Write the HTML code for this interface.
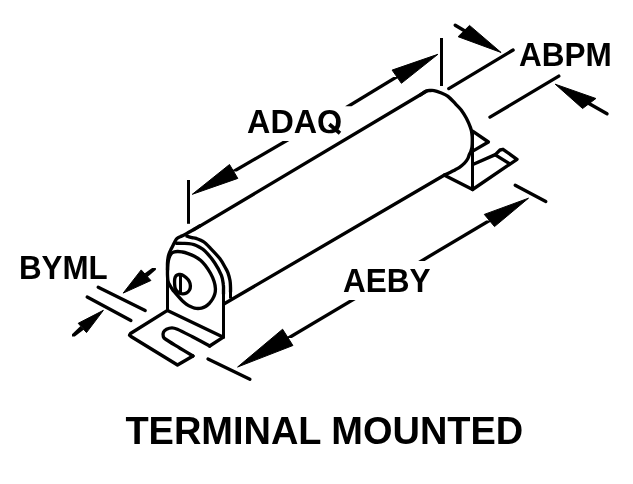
<!DOCTYPE html>
<html><head><meta charset="utf-8"><title>Terminal Mounted</title>
<style>
html,body{margin:0;padding:0;background:#fff;}
body{width:633px;height:484px;overflow:hidden;}
svg{display:block;}
.d line,.d polyline,.d path,.d ellipse{fill:none;stroke:#000;stroke-width:3.35;stroke-linecap:round;stroke-linejoin:round;}
.d line.b{stroke-linecap:butt;stroke-width:3;}
.d line.q{stroke-linecap:butt;stroke-width:3.8;}
.d polygon.h0{fill:#000;stroke:none;}
.d polygon.h{fill:#000;stroke:#000;stroke-width:1;stroke-linejoin:miter;}
.t text{font-family:"Liberation Sans",sans-serif;font-weight:bold;fill:#000;}
</style></head>
<body>
<svg width="633" height="484" viewBox="0 0 633 484">
<g class="d">
<line x1="448.8" y1="88.6" x2="513.1" y2="50"/>
<line x1="490" y1="117.1" x2="558.8" y2="76.1"/>
<line x1="455.2" y1="25.2" x2="464.5" y2="30.8"/>
<polygon class="h" points="469.5,25.4 501.1,52.5 458.1,36.7"/>
<line x1="588.5" y1="103.2" x2="607" y2="113.8"/>
<polygon class="h" points="555.2,84.2 595.9,98.5 582.6,108.5"/>
<line class="b" x1="441.5" y1="38" x2="441.5" y2="86"/>
<line class="b" x1="188.5" y1="180" x2="188.5" y2="223.8"/>
<polygon class="h" points="437.9,54.3 392.1,70.1 401.4,83.3"/>
<polygon class="h0" points="393.3,77 399.7,77 351.6,106.3 345.1,106.3"/>
<polygon class="h" points="192.3,194.3 229.5,164.5 237.8,178.4"/>
<polygon class="h0" points="230.2,171.5 236.8,171.5 289.3,140.9 282.7,140.9"/>
<line class="nc" x1="426.3" y1="91.3" x2="194" y2="229.6"/>
<path d="M200,225.7 C199,226.3 195.9,228.2 194,229.3 C192.1,230.4 190.4,231.4 188.8,232.3 C187.2,233.2 185.9,234.1 184.5,234.8 C183.1,235.5 181.3,236.1 180.1,236.7 C178.8,237.3 177.8,237.8 177,238.5 C176.2,239.2 175.8,240 175.2,241 C174.6,242 173.9,243.4 173.3,244.7 C172.7,245.9 172.1,247.2 171.4,248.5 C170.8,249.8 170,251.3 169.4,252.8 C168.8,254.3 168.4,255.8 168.1,257.5 C167.8,259.2 167.6,260.9 167.5,263 C167.4,265.1 167.5,268.8 167.5,270"/>
<line class="b" x1="167.5" y1="265" x2="167.5" y2="311.5"/>
<path d="M420,95.2 C421.1,94.5 424.6,91.9 426.3,91.1 C428.1,90.3 429.2,90.6 430.5,90.5 C431.8,90.4 432.4,90.3 434,90.6 C435.6,90.9 437.7,91.5 440,92.5 C442.3,93.5 445.4,94.3 448,96.3 C450.6,98.3 453.7,102 455.9,104.3 C458.1,106.6 459.4,107.7 461.2,110 C462.9,112.3 464.8,115.4 466.4,118.3 C467.9,121.2 469.6,125.1 470.5,127.6 C471.4,130 471.5,130.9 471.8,133 C472.1,135.1 472.3,137.7 472.3,140 C472.3,142.3 472.2,145.1 472,147 C471.8,148.9 471.3,150.2 470.8,151.5 C470.3,152.8 469.7,153.6 469.2,154.8 C468.7,156.1 468.4,157.6 467.6,159 C466.8,160.4 465.9,161.7 464.5,163.1 C463.1,164.5 461.1,166.2 459.5,167.3 C457.9,168.4 456.5,169.1 455,169.9 C453.5,170.7 452.1,171.4 450.4,172.3 C448.6,173.2 445.5,174.6 444.5,175.1"/>
<line x1="224.3" y1="303.8" x2="444.5" y2="175"/>
<path d="M187,236.2 C187.8,236.4 190.4,237.2 191.9,237.6 C193.4,238 194.3,237.7 196.2,238.4 C198.1,239.1 201,240 203.4,241.7 C205.8,243.3 207.8,245.5 210.5,248.3 C213.2,251.1 217.2,255.2 219.8,258.6 C222.4,262 224.6,266.4 226,268.9 C227.4,271.3 227.4,271.4 228.1,273.3 C228.8,275.2 229.6,278.2 230,280.5 C230.4,282.8 230.4,285.1 230.5,287 C230.6,288.9 230.5,291.2 230.5,292"/>
<line class="b" x1="230.5" y1="290" x2="230.5" y2="298.5"/>
<path d="M176.4,243.2 C177.4,243.2 180.5,243.2 182.6,243.3 C184.7,243.4 186.9,243.4 188.8,243.6 C190.7,243.8 192.3,244.1 194,244.6 C195.7,245.1 196.8,245.6 198.7,246.7 C200.6,247.8 202.7,248.7 205.3,251.4 C208,254.1 211.9,258.7 214.6,262.7 C217.3,266.7 219.9,271.7 221.4,275.3 C222.9,278.9 223,282.1 223.3,284.5 C223.7,286.9 223.5,288.4 223.5,290 C223.5,291.6 223.5,293.3 223.5,294"/>
<line class="b" x1="223.5" y1="292" x2="223.5" y2="338"/>
<path d="M177.4,251.5 C179.1,251.4 180.6,251.7 182.4,252 C184.2,252.3 186.1,252.9 188.1,253.6 C190.1,254.3 192.3,255.2 194.4,256.3 C196.5,257.4 199,259 200.8,260.5 C202.6,262 203.6,263.2 205.2,265.3 C206.8,267.4 209,270.6 210.5,273.3 C212,276 213.3,279 214.1,281.5 C214.9,284 215.3,286.4 215.4,288.5 C215.5,290.6 215.3,292.2 214.8,294 C214.3,295.8 213.5,297.5 212.6,299 C211.7,300.5 210.7,301.9 209.5,303.2 C208.3,304.4 206.8,305.7 205.5,306.5 C204.2,307.3 202.8,307.8 201.5,308.1 C200.2,308.4 199.2,308.5 198,308.5 C196.8,308.5 195.8,308.4 194.5,308.1 C193.2,307.8 191.8,307.2 190.5,306.6 C189.2,306 188,305.3 186.6,304.3 C185.2,303.3 183.6,301.9 182.3,300.7 C181,299.5 180.1,298.5 179,297.2 C177.9,295.9 176.6,294.4 175.5,293.1 C174.4,291.8 173.4,290.8 172.5,289.5 C171.6,288.2 170.8,286.9 170,285.5 C169.2,284.1 168.4,282.8 168,281 C167.6,279.2 167.6,277.2 167.5,275 C167.4,272.8 167.5,270.3 167.6,268 C167.7,265.7 167.9,263 168.3,261 C168.7,259 169.1,257.4 169.8,256 C170.5,254.6 171.2,253.3 172.5,252.6 C173.8,251.8 175.8,251.6 177.4,251.5Z"/>
<path d="M179,274.5 C180,274.3 180.8,274.2 182,274.7 C183.2,275.2 184.8,276.4 186,277.5 C187.2,278.6 188.6,280.1 189.3,281.5 C190,282.9 190.4,284.6 190.4,286 C190.4,287.4 190.2,288.8 189.5,290 C188.8,291.2 187.7,292.4 186.5,293 C185.3,293.6 183.8,293.9 182.5,293.8 C181.2,293.7 179.7,293.3 178.5,292.5 C177.3,291.7 176.2,290.4 175.5,289 C174.8,287.6 174.7,285.7 174.6,284 C174.5,282.3 174.5,280.4 174.7,279 C174.9,277.6 175.3,276.6 176,275.8 C176.7,275.1 178,274.7 179,274.5Z"/>
<line class="b" x1="180.5" y1="275" x2="180.5" y2="293"/>
<line x1="167.5" y1="310.4" x2="223.4" y2="337.2"/>
<polyline points="167.5,310.4 130.5,333.5 129.5,335.2 131,336.5 177.5,365 193,356"/>
<polyline points="223.4,337.2 209.7,346"/>
<path d="M193,356 C190.8,354.7 184.5,350.9 180,348.2 C175.5,345.4 168.8,341.4 166,339.5 C163.2,337.6 163.7,337.7 163.3,336.5 C162.9,335.3 163,333.4 163.5,332.2 C164,331 165.1,329.9 166.5,329.2 C167.9,328.5 170.2,327.8 172,327.8 C173.8,327.8 174.1,327.8 177.4,329.2 C180.7,330.6 186.6,333.7 192,336.5 C197.4,339.3 206.8,344.4 209.7,346"/>
<line class="b" x1="472.5" y1="130.5" x2="472.5" y2="190"/>
<polyline points="472.6,131.2 488.4,142 473.6,150.6"/>
<polyline points="473.4,164.2 495.3,154.6 500,150 503,149.3 517,159.3 472.6,189.5"/>
<line x1="495.3" y1="154.8" x2="509" y2="163.3"/>
<line x1="444.5" y1="175.3" x2="472.6" y2="189.5"/>
<line x1="208" y1="359.1" x2="249.9" y2="379.3"/>
<line x1="515.2" y1="185.3" x2="545.8" y2="201.4"/>
<polygon class="h" points="237.6,367 282.6,329.2 292.9,345.5"/>
<polygon class="h0" points="285.2,338.1 291.8,338.1 355.7,299.9 349.2,299.9"/>
<polygon class="h" points="528.5,198.2 484.3,214.4 494.5,226.6"/>
<polygon class="h0" points="486.2,220.5 492.8,220.5 424.7,260.9 418.2,260.9"/>
<line x1="98.2" y1="287.2" x2="145.2" y2="310.4"/>
<line x1="87.2" y1="297.1" x2="130.9" y2="320.4"/>
<polygon class="h" points="123.2,293.1 141.2,269.9 150.9,280.5"/>
<polygon class="h0" points="152.1,268 155.9,268 155.9,269.8 147.5,277 144.5,273.5"/>
<polygon class="h" points="103.4,310.3 78.2,323.3 86.5,332.6"/>
<polygon class="h0" points="72,334.2 80.5,326 84,329.5 74.8,336.5 72,336.5"/>
<line class="q" x1="329.3" y1="124.3" x2="340" y2="133.2"/>
</g>
<defs><clipPath id="cq"><rect x="0" y="0" width="633" height="133.2"/><rect x="0" y="150" width="633" height="334"/></clipPath></defs>
<g class="t" style="will-change:transform" clip-path="url(#cq)">
<text x="519.05" y="65.8" font-size="32.7" textLength="92.8" lengthAdjust="spacingAndGlyphs">ABPM</text>
<text x="247.1" y="132.8" font-size="32.7" textLength="95.1" lengthAdjust="spacingAndGlyphs">ADAQ</text>
<text x="19.0" y="278.9" font-size="32.7" textLength="88.7" lengthAdjust="spacingAndGlyphs">BYML</text>
<text x="343.05" y="291.8" font-size="32.7" textLength="87.6" lengthAdjust="spacingAndGlyphs">AEBY</text>
<text x="125.4" y="443.9" font-size="38.5" textLength="397.9" lengthAdjust="spacingAndGlyphs">TERMINAL MOUNTED</text>
</g>
</svg>
</body></html>
